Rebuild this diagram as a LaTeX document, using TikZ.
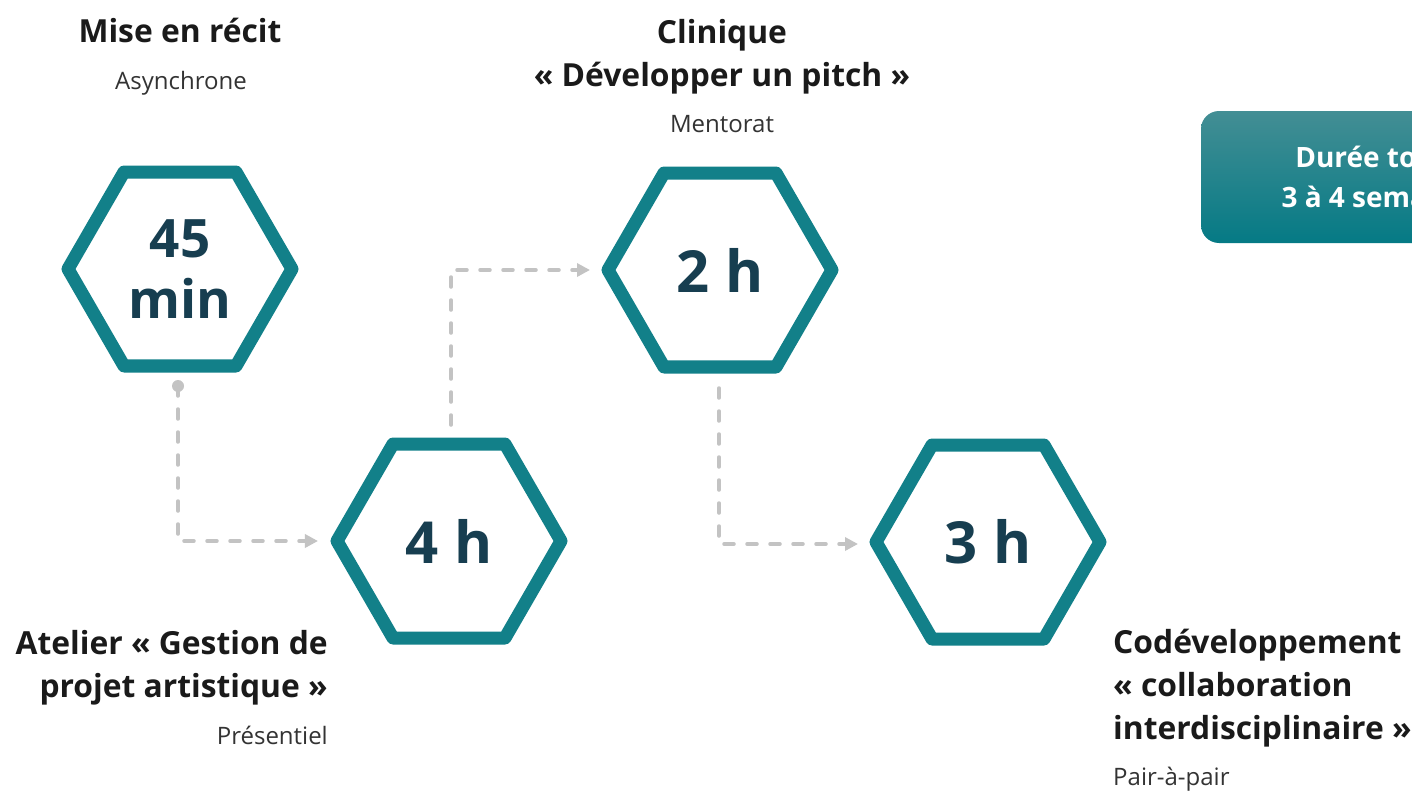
\documentclass[tikz,border=0pt]{standalone}
\usepackage{fontspec}
\setmainfont{Open Sans}
\usetikzlibrary{shapes.geometric,arrows.meta,calc}
\definecolor{hexteal}{HTML}{128089}
\definecolor{hexnavy}{HTML}{173E50}
\definecolor{conngray}{HTML}{C3C3C3}
\definecolor{boxtop}{HTML}{438E94}
\definecolor{boxbot}{HTML}{057A85}
\definecolor{titleblack}{HTML}{1A1A1A}
\definecolor{subgray}{HTML}{333333}
\begin{document}
\begin{tikzpicture}[x=1pt,y=-1pt,
  hexnode/.style={regular polygon, regular polygon sides=6, minimum size=224pt,
    inner sep=0pt, outer sep=0pt, draw=hexteal, line width=13pt, line join=round,
    fill=white, text=hexnavy, font=\fontsize{58}{62}\selectfont\bfseries, align=center},
  titletext/.style={inner sep=0pt, text=titleblack, font=\fontsize{31.8}{43}\selectfont\bfseries},
  subtext/.style={inner sep=0pt, text=subgray, font=\fontsize{24}{28}\selectfont},
  connline/.style={draw=conngray, line width=3.5pt, dash pattern=on 10pt off 13pt,
    line cap=round, line join=round},
  conntip/.style={-{Triangle[length=13pt,width=13pt]}},
  durbox/.style={rounded corners=18pt, minimum width=364pt, minimum height=132pt,
    top color=boxtop, bottom color=boxbot, draw=none, text=white, align=center,
    font=\fontsize{28}{40}\selectfont\bfseries}
]
\useasboundingbox (0,0) rectangle (1412,792);
\clip (0,0) rectangle (1412,792);
\fill[white] (0,0) rectangle (1412,792);

% hexagons
\node[hexnode, font=\fontsize{53}{61}\selectfont\bfseries] (h1) at (180,269) {45\\min};
\node[hexnode] (h2) at (449,541) {4 h};
\node[hexnode] (h3) at (720,270) {2 h};
\node[hexnode] (h4) at (988,542) {3 h};

% labels
\node[titletext, anchor=base] (t1) at (180,43) {Mise en récit};
\node[subtext, anchor=base] (s1) at (181,89) {Asynchrone};

\node[titletext, anchor=base, align=center] (t3) at (722,86) {Clinique\\« Développer un pitch »};
\node[subtext, anchor=base] (s3) at (722,132) {Mentorat};

\node[titletext, anchor=base east, align=right] (t2) at (328,697) {Atelier « Gestion de\\projet artistique »};
\node[subtext, anchor=base east] (s2) at (328,744) {Présentiel};

\node[titletext, anchor=base west, align=left] (t4) at (1113,739) {Codéveloppement\\« collaboration\\interdisciplinaire »};
\node[subtext, anchor=base west] (s4) at (1113,785) {Pair-à-pair};

% duration box
\node[durbox] (dur) at (1383,177) {Durée totale\\3 à 4 semaines};

% connectors
\coordinate (c1s) at ($(h1.south)+(-2,20)$);
\coordinate (c1e) at ($(h2.west)+(-19,0)$);
\fill[conngray] (c1s) circle (6pt);
\draw[connline, conntip] (c1s) |- (c1e);

\coordinate (c2s) at ($(h2.north)+(2,-19)$);
\coordinate (c2e) at ($(h3.west)+(-18,0)$);
\draw[connline, conntip] (c2s) |- (c2e);

\coordinate (c3s) at ($(h3.south)+(-1,21)$);
\coordinate (c3e) at ($(h4.west)+(-18,2)$);
\draw[connline, conntip] (c3s) |- (c3e);
\end{tikzpicture}
\end{document}
